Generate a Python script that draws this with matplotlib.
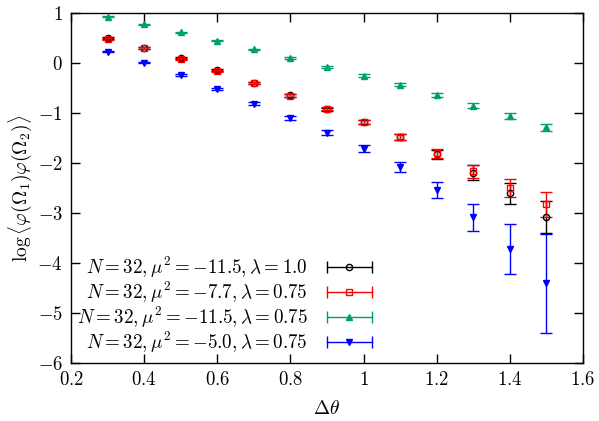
#! /usr/bin/env python3

import numpy as np
import matplotlib
matplotlib.use("Agg")
import matplotlib.pyplot as plt
from matplotlib.legend_handler import HandlerBase
from matplotlib.lines import Line2D
from matplotlib.ticker import FuncFormatter, MultipleLocator


plt.rcParams['mathtext.fontset'] = 'cm'
plt.rcParams['font.family'] = 'serif'
plt.rcParams['font.size'] = 13

# Separation of the two points.
dtheta = [0.3, 0.4, 0.5, 0.6, 0.7, 0.8, 0.9, 1.0, 1.1, 1.2, 1.3, 1.4, 1.5]

# N=32, mu^2=-11.5, lambda=1.0
y_black = [0.50, 0.31, 0.10, -0.14, -0.39, -0.64, -0.92, -1.18, -1.48, -1.83, -2.20, -2.61, -3.09]
e_black = [0.02, 0.02, 0.02, 0.02, 0.02, 0.03, 0.03, 0.04, 0.06, 0.09, 0.15, 0.21, 0.32]

# N=32, mu^2=-7.7, lambda=0.75
y_red = [0.49, 0.31, 0.08, -0.15, -0.39, -0.65, -0.91, -1.18, -1.47, -1.81, -2.17, -2.51, -2.83]
e_red = [0.02, 0.02, 0.02, 0.02, 0.02, 0.03, 0.03, 0.04, 0.06, 0.10, 0.13, 0.18, 0.25]

# N=32, mu^2=-11.5, lambda=0.75
y_green = [0.93, 0.78, 0.62, 0.45, 0.28, 0.11, -0.07, -0.25, -0.43, -0.63, -0.85, -1.06, -1.28]
e_green = [0.01, 0.01, 0.01, 0.01, 0.01, 0.02, 0.02, 0.03, 0.03, 0.04, 0.05, 0.06, 0.07]

# N=32, mu^2=-5.0, lambda=0.75
y_blue = [0.23, 0.01, -0.23, -0.51, -0.81, -1.09, -1.39, -1.71, -2.09, -2.55, -3.09, -3.72, -4.41]
e_blue = [0.01, 0.01, 0.02, 0.02, 0.03, 0.04, 0.05, 0.07, 0.10, 0.16, 0.27, 0.50, 0.99]

labels = [r"$N = 32, \mu^2 = -11.5, \lambda = 1.0$",
          r"$N = 32, \mu^2 = -7.7, \lambda = 0.75$",
          r"$N = 32, \mu^2 = -11.5, \lambda = 0.75$",
          r"$N = 32, \mu^2 = -5.0, \lambda = 0.75$"]


# Gnuplot style key sample: horizontal bar with end caps and a marker.
class HandlerXErr(HandlerBase):
    def create_artists(self, legend, orig_handle, xdescent, ydescent,
                       width, height, fontsize, trans):
        y = height / 2 - ydescent
        x0, x1 = -xdescent, width - xdescent
        c = orig_handle.get_color()
        line = Line2D([x0, x1], [y, y], color=c, lw=1, transform=trans)
        caps = Line2D([x0, x1], [y, y], ls='none', marker='|', ms=8,
                      mew=1, color=c, transform=trans)
        mk = Line2D([(x0 + x1) / 2], [y], ls='none',
                    marker=orig_handle.get_marker(),
                    ms=orig_handle.get_markersize(),
                    mfc=orig_handle.get_markerfacecolor(),
                    mec=c, mew=1, transform=trans)
        return [line, caps, mk]


fig = plt.figure(figsize=(5.99, 4.21), dpi=100)
ax = fig.add_axes([0.1185, 0.1378, 0.9733 - 0.1185, 0.9691 - 0.1378])

styles = [
    (y_black, e_black, 'black', 'o', 'none', 4.5),
    (y_red, e_red, '#ff0000', 's', 'none', 5),
    (y_green, e_green, '#009e73', '^', '#009e73', 4),
    (y_blue, e_blue, '#0000ff', 'v', '#0000ff', 4),
]

handles = []
for (yv, ev, col, mk, fc, ms) in styles:
    ax.errorbar(dtheta, yv, yerr=ev, fmt=mk, color=col, mfc=fc, mec=col,
                ms=ms, mew=1, elinewidth=1, capsize=4, capthick=1)
    handles.append(Line2D([], [], color=col, marker=mk, mfc=fc, ms=ms))

ax.set_xlim(0.2, 1.6)
ax.set_ylim(-6, 1)
ax.xaxis.set_major_locator(MultipleLocator(0.2))
ax.yaxis.set_major_locator(MultipleLocator(1))
fmt = FuncFormatter(lambda v, p: "$%g$" % round(v, 3))
ax.xaxis.set_major_formatter(fmt)
ax.yaxis.set_major_formatter(fmt)
ax.tick_params(direction='in', length=6.5, width=1, top=True, right=True,
               labelsize=13.5, pad=6)
for s in ax.spines.values():
    s.set_linewidth(1)

ax.set_xlabel(r"$\Delta\theta$", fontsize=14, labelpad=8)
ax.set_ylabel(r"$\log\langle\varphi(\Omega_1)\varphi(\Omega_2)\rangle$",
              fontsize=14, labelpad=2)

ax.legend(handles, labels, handler_map={Line2D: HandlerXErr()},
          loc='lower right', bbox_to_anchor=(0.607, -0.004), frameon=False,
          markerfirst=False, handlelength=2.4, handletextpad=1.0,
          labelspacing=0.0, borderpad=0, fontsize=13.7)

fig.savefig("out.png", dpi=100)
